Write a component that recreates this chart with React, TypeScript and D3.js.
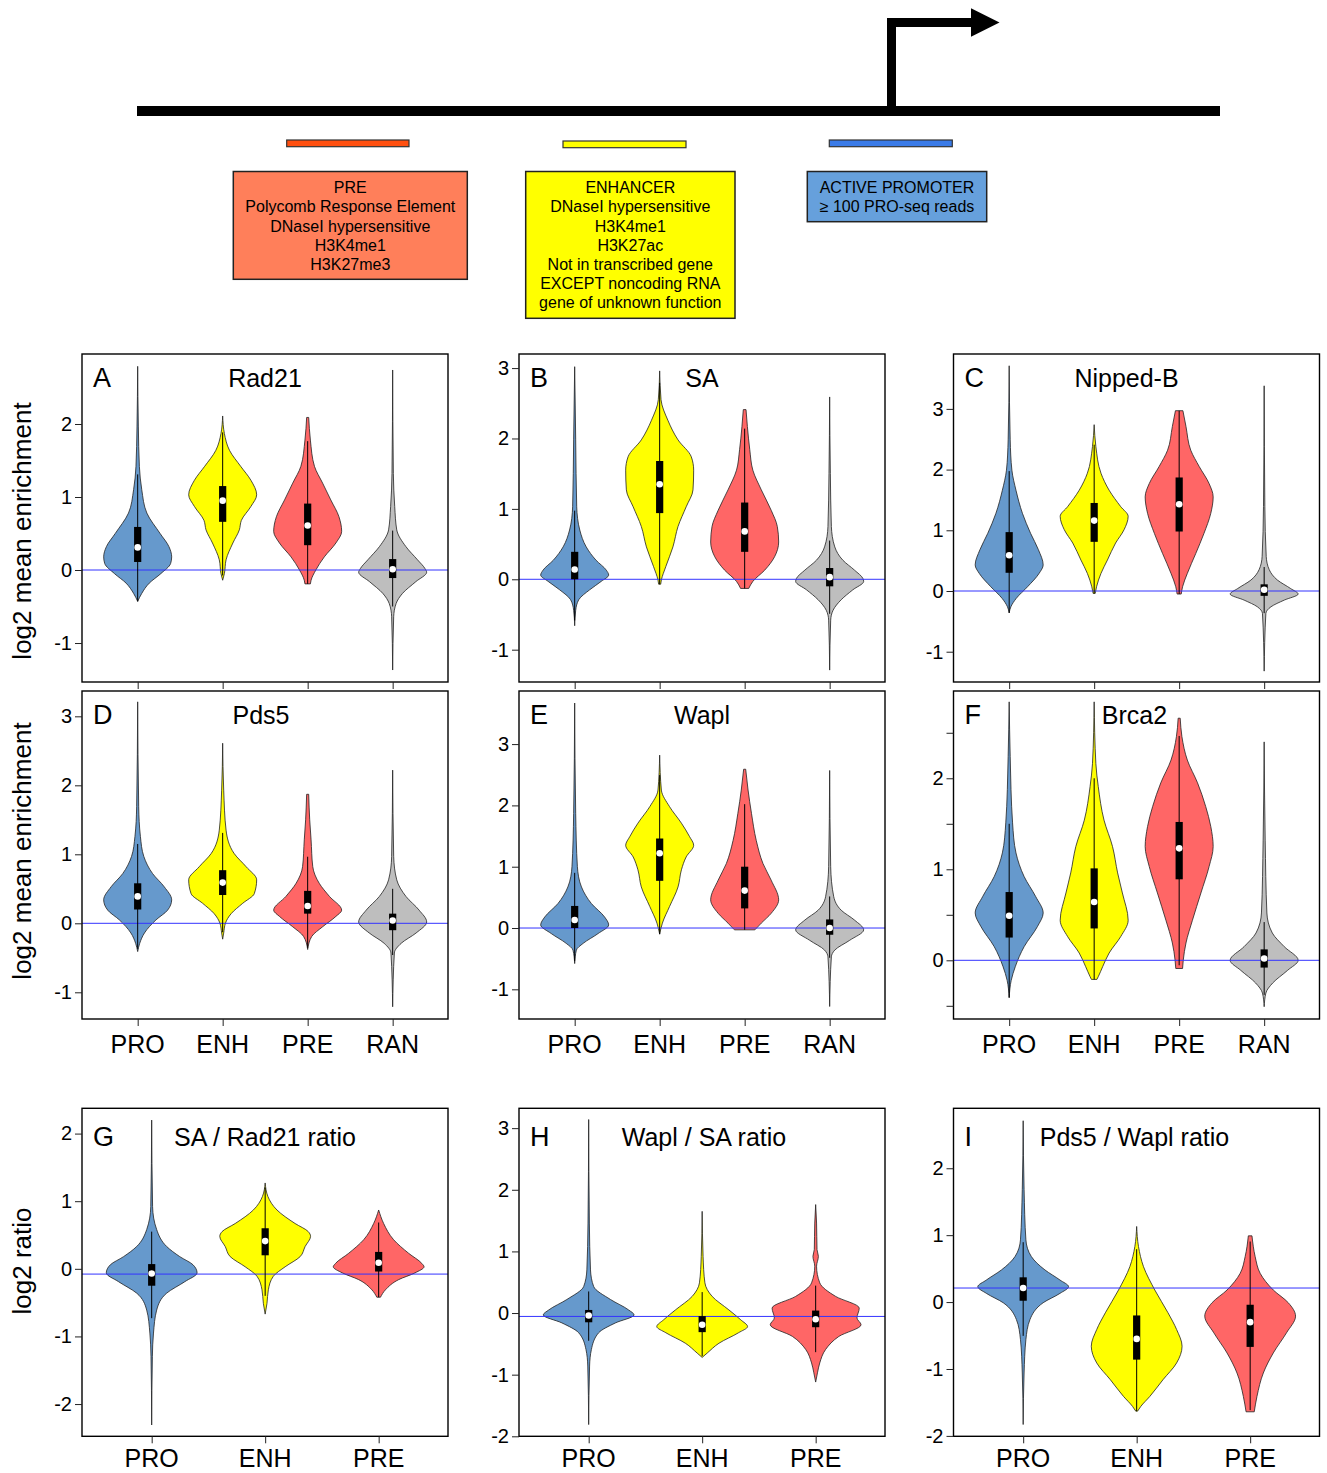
import React, { useEffect, useRef } from 'react';
import * as d3 from 'd3';

type Pt = [number, number];
type Box = [number, number, number];

const FONT = '"Liberation Sans", Arial, Helvetica, sans-serif';

// ---- categories / colours ----
const CATS4 = ['PRO', 'ENH', 'PRE', 'RAN'];
const CATS3 = ['PRO', 'ENH', 'PRE'];
const VIOLIN_COLORS = ['#6699CC', '#FFFF00', '#FF6666', '#BEBEBE'];

// ---- violin profiles: [value, relative half-width] ----
const A_PRO: Pt[] = [[-0.43, 0], [-0.32, 0.12], [-0.18, 0.34], [-0.05, 0.68], [0.09, 0.97], [0.18, 1], [0.32, 0.92], [0.5, 0.66], [0.78, 0.27], [1.1, 0.12], [1.42, 0.05], [1.96, 0.02], [2.79, 0]];
const A_ENH: Pt[] = [[-0.14, 0], [-0.05, 0.05], [0.14, 0.1], [0.37, 0.3], [0.55, 0.49], [0.68, 0.55], [0.87, 0.83], [1.03, 1], [1.23, 0.83], [1.42, 0.53], [1.64, 0.2], [1.87, 0.05], [2.11, 0]];
const A_PRE: Pt[] = [[-0.19, 0.08], [-0.14, 0.1], [0, 0.24], [0.18, 0.49], [0.37, 0.83], [0.53, 1], [0.73, 0.92], [0.96, 0.68], [1.19, 0.44], [1.42, 0.2], [1.78, 0.08], [2.09, 0.03]];
const A_RAN: Pt[] = [[-1.37, 0], [-0.64, 0.03], [-0.46, 0.1], [-0.32, 0.29], [-0.16, 0.68], [-0.03, 1], [0.02, 0.95], [0.14, 0.73], [0.32, 0.39], [0.55, 0.12], [0.87, 0.06], [1.32, 0.02], [2.74, 0]];
const A_BOX: Box[] = [[0.11, 0.31, 0.59], [0.66, 0.95, 1.15], [0.34, 0.61, 0.91], [-0.11, 0.01, 0.15]];

const B_PRO: Pt[] = [[-0.66, 0], [-0.44, 0.03], [-0.29, 0.12], [-0.15, 0.44], [-0.03, 0.78], [0.06, 1], [0.13, 0.93], [0.27, 0.63], [0.46, 0.34], [0.7, 0.15], [1.03, 0.06], [1.98, 0.03], [3.02, 0]];
const B_ENH: Pt[] = [[-0.07, 0.03], [-0.01, 0.05], [0.18, 0.18], [0.46, 0.39], [0.75, 0.54], [1.03, 0.78], [1.27, 0.98], [1.55, 1], [1.74, 0.93], [1.98, 0.54], [2.26, 0.24], [2.55, 0.04], [2.96, 0]];
const B_PRE: Pt[] = [[-0.13, 0.12], [-0.03, 0.24], [0.13, 0.59], [0.32, 0.88], [0.53, 1], [0.75, 0.96], [0.98, 0.78], [1.27, 0.49], [1.55, 0.24], [1.84, 0.15], [2.17, 0.08], [2.41, 0.04]];
const B_RAN: Pt[] = [[-1.29, 0], [-0.58, 0.03], [-0.44, 0.1], [-0.29, 0.34], [-0.15, 0.68], [-0.03, 1], [0.01, 0.98], [0.13, 0.73], [0.27, 0.39], [0.46, 0.15], [0.75, 0.05], [1.5, 0.02], [2.59, 0]];
const B_BOX: Box[] = [[0.0, 0.14, 0.39], [0.94, 1.35, 1.68], [0.39, 0.68, 1.09], [-0.1, 0.03, 0.16]];

const C_PRO: Pt[] = [[-0.36, 0], [-0.26, 0.05], [-0.12, 0.21], [0.07, 0.54], [0.29, 0.88], [0.43, 1], [0.68, 0.86], [0.95, 0.63], [1.28, 0.39], [1.66, 0.2], [1.99, 0.08], [2.49, 0.03], [3.71, 0]];
const C_ENH: Pt[] = [[-0.04, 0.03], [0.07, 0.07], [0.29, 0.2], [0.51, 0.39], [0.79, 0.63], [1.01, 0.88], [1.23, 1], [1.39, 0.78], [1.66, 0.44], [1.94, 0.2], [2.38, 0.05], [2.74, 0]];
const C_PRE: Pt[] = [[-0.05, 0.06], [0.07, 0.1], [0.29, 0.24], [0.62, 0.49], [0.95, 0.73], [1.28, 0.93], [1.55, 1], [1.77, 0.88], [2.05, 0.59], [2.32, 0.34], [2.71, 0.2], [2.97, 0.11]];
const C_RAN: Pt[] = [[-1.32, 0], [-0.37, 0.05], [-0.26, 0.2], [-0.15, 0.59], [-0.05, 1], [0.04, 0.78], [0.18, 0.39], [0.35, 0.15], [0.57, 0.06], [1.39, 0.02], [3.38, 0]];
const C_BOX: Box[] = [[0.3, 0.59, 0.97], [0.81, 1.16, 1.45], [0.98, 1.43, 1.87], [-0.08, 0.02, 0.11]];

const D_PRO: Pt[] = [[-0.41, 0], [-0.29, 0.06], [-0.14, 0.2], [0.05, 0.54], [0.19, 0.88], [0.34, 1], [0.53, 0.78], [0.72, 0.44], [0.97, 0.18], [1.26, 0.08], [1.69, 0.03], [3.21, 0]];
const D_ENH: Pt[] = [[-0.23, 0], [-0.14, 0.03], [0, 0.08], [0.14, 0.25], [0.29, 0.59], [0.43, 0.93], [0.63, 1], [0.82, 0.69], [1.01, 0.34], [1.35, 0.1], [1.93, 0.03], [2.61, 0]];
const D_PRE: Pt[] = [[-0.38, 0], [-0.19, 0.12], [-0.05, 0.44], [0.1, 0.83], [0.19, 1], [0.39, 0.64], [0.58, 0.34], [0.82, 0.15], [1.21, 0.1], [1.5, 0.06], [1.87, 0.03]];
const D_RAN: Pt[] = [[-1.21, 0], [-0.43, 0.05], [-0.29, 0.25], [-0.14, 0.69], [0.02, 1], [0.19, 0.78], [0.39, 0.39], [0.63, 0.12], [0.97, 0.03], [2.22, 0]];
const D_BOX: Box[] = [[0.2, 0.39, 0.58], [0.41, 0.59, 0.77], [0.14, 0.25, 0.47], [-0.1, 0.04, 0.14]];

const E_PRO: Pt[] = [[-0.58, 0], [-0.36, 0.05], [-0.25, 0.25], [-0.09, 0.69], [0.05, 1], [0.18, 0.88], [0.4, 0.49], [0.67, 0.2], [1.0, 0.08], [1.87, 0.03], [3.67, 0]];
const E_ENH: Pt[] = [[-0.1, 0], [0.08, 0.08], [0.35, 0.29], [0.67, 0.54], [0.95, 0.64], [1.16, 0.78], [1.35, 1], [1.49, 0.88], [1.71, 0.64], [1.98, 0.29], [2.25, 0.05], [2.82, 0]];
const E_PRE: Pt[] = [[-0.03, 0.3], [0.08, 0.49], [0.24, 0.78], [0.46, 1], [0.78, 0.78], [1.05, 0.54], [1.43, 0.34], [1.87, 0.2], [2.25, 0.1], [2.59, 0.03]];
const E_RAN: Pt[] = [[-1.28, 0], [-0.47, 0.05], [-0.36, 0.15], [-0.2, 0.59], [-0.03, 1], [0.13, 0.73], [0.29, 0.34], [0.51, 0.12], [1.0, 0.03], [2.57, 0]];
const E_BOX: Box[] = [[0.0, 0.13, 0.36], [0.77, 1.22, 1.46], [0.32, 0.61, 1.0], [-0.11, 0.0, 0.14]];

const F_PRO: Pt[] = [[-0.41, 0], [-0.22, 0.06], [-0.07, 0.18], [0.15, 0.44], [0.37, 0.83], [0.52, 1], [0.7, 0.78], [0.92, 0.44], [1.18, 0.2], [1.51, 0.1], [2.24, 0.03], [2.84, 0]];
const F_ENH: Pt[] = [[-0.21, 0.08], [-0.18, 0.12], [-0.07, 0.25], [0.08, 0.44], [0.26, 0.78], [0.44, 1], [0.74, 0.83], [0.96, 0.69], [1.25, 0.54], [1.54, 0.29], [1.91, 0.12], [2.16, 0.05], [2.84, 0]];
const F_PRE: Pt[] = [[-0.09, 0.1], [0.0, 0.12], [0.19, 0.2], [0.44, 0.39], [0.74, 0.64], [1.03, 0.88], [1.25, 1], [1.47, 0.93], [1.69, 0.78], [1.95, 0.54], [2.2, 0.24], [2.46, 0.08], [2.66, 0.03]];
const F_RAN: Pt[] = [[-0.51, 0], [-0.36, 0.05], [-0.25, 0.25], [-0.11, 0.69], [0.0, 1], [0.15, 0.59], [0.3, 0.24], [0.52, 0.08], [1.32, 0.03], [2.4, 0]];
const F_BOX: Box[] = [[0.25, 0.49, 0.75], [0.35, 0.64, 1.01], [0.89, 1.23, 1.52], [-0.08, 0.02, 0.12]];

const G_PRO: Pt[] = [[-2.31, 0], [-1.3, 0.015], [-0.95, 0.04], [-0.61, 0.11], [-0.36, 0.33], [-0.19, 0.73], [-0.06, 1], [0.06, 0.91], [0.18, 0.62], [0.33, 0.33], [0.58, 0.11], [0.92, 0.02], [2.2, 0]];
const G_ENH: Pt[] = [[-0.67, 0], [-0.51, 0.04], [-0.31, 0.07], [-0.11, 0.18], [0.03, 0.44], [0.18, 0.77], [0.33, 0.88], [0.48, 1], [0.55, 0.95], [0.67, 0.66], [0.87, 0.26], [1.07, 0.06], [1.27, 0]];
const G_PRE: Pt[] = [[-0.42, 0.04], [-0.31, 0.15], [-0.16, 0.44], [-0.06, 0.8], [0.03, 1], [0.08, 0.95], [0.23, 0.66], [0.43, 0.33], [0.67, 0.11], [0.87, 0]];
const G_BOX: Box[] = [[-0.25, -0.07, 0.07], [0.2, 0.41, 0.6], [-0.04, 0.09, 0.25]];

const H_PRO: Pt[] = [[-1.81, 0], [-0.86, 0.02], [-0.59, 0.06], [-0.32, 0.22], [-0.16, 0.59], [-0.03, 1], [0.05, 0.88], [0.22, 0.48], [0.43, 0.11], [0.7, 0.04], [1.46, 0.015], [3.14, 0]];
const H_ENH: Pt[] = [[-0.72, 0], [-0.65, 0.11], [-0.49, 0.37], [-0.32, 0.8], [-0.22, 1], [-0.11, 0.85], [0.05, 0.59], [0.27, 0.22], [0.49, 0.06], [0.92, 0.02], [1.65, 0]];
const H_PRE: Pt[] = [[-1.12, 0], [-0.97, 0.04], [-0.81, 0.09], [-0.59, 0.22], [-0.38, 0.51], [-0.19, 1], [-0.08, 0.91], [0.08, 0.96], [0.27, 0.44], [0.49, 0.09], [0.76, 0.02], [0.92, 0.06], [1.03, 0.03], [1.46, 0.02], [1.76, 0]];
const H_BOX: Box[] = [[-0.15, -0.04, 0.05], [-0.31, -0.19, -0.05], [-0.23, -0.1, 0.04]];

const I_PRO: Pt[] = [[-1.83, 0], [-1.06, 0.02], [-0.56, 0.06], [-0.26, 0.15], [-0.01, 0.44], [0.13, 0.81], [0.23, 1], [0.33, 0.81], [0.48, 0.48], [0.68, 0.18], [0.93, 0.06], [1.68, 0.02], [2.71, 0]];
const I_ENH: Pt[] = [[-1.63, 0.02], [-1.56, 0.09], [-1.41, 0.29], [-1.16, 0.58], [-0.91, 0.88], [-0.66, 1], [-0.41, 0.88], [-0.16, 0.69], [0.18, 0.4], [0.53, 0.15], [0.83, 0.04], [1.13, 0]];
const I_PRE: Pt[] = [[-1.64, 0.09], [-1.41, 0.15], [-1.06, 0.29], [-0.76, 0.51], [-0.46, 0.8], [-0.21, 1], [-0.01, 0.84], [0.18, 0.51], [0.43, 0.22], [0.68, 0.11], [0.99, 0.04]];
const I_BOX: Box[] = [[0.02, 0.21, 0.37], [-0.86, -0.55, -0.2], [-0.67, -0.3, -0.04]];

// ---- axis ticks ----
const TICKS_A = [-1, 0, 1, 2];
const TICKS_BCDE = [-1, 0, 1, 2, 3];
const TICKS_F = [-0.5, 0, 0.5, 1, 1.5, 2, 2.5];
const TICKS_G = [-2, -1, 0, 1, 2];
const TICKS_H = [-2, -1, 0, 1, 2, 3];
const TICKS_I = [-2, -1, 0, 1, 2];

// ---- top diagram texts ----
const PRE_TEXT = ['PRE', 'Polycomb Response Element', 'DNaseI hypersensitive', 'H3K4me1', 'H3K27me3'];
const ENH_TEXT = ['ENHANCER', 'DNaseI hypersensitive', 'H3K4me1', 'H3K27ac', 'Not in transcribed gene', 'EXCEPT noncoding RNA', 'gene of unknown function'];
const PRO_TEXT = ['ACTIVE PROMOTER', '\u2265 100 PRO-seq reads'];

// ---- layout ----
const COL_LEFT = [82, 519, 953.5];
const ROW_TOP = [354, 691, 1108.3];
const PW = 366;
const PH = 328;

interface PanelCfg {
  letter: string;
  title: string;
  titleDx: number;
  col: number;
  row: number;
  cats: string[];
  violins: Pt[][];
  boxes: Box[];
  yDomain: [number, number];
  ticks: number[];
  refLine: number;
  showX: boolean;
  yTitle?: string;
  yTitleY?: number;
}

const PANELS: PanelCfg[] = [
  { letter: 'A', title: 'Rad21', titleDx: 0, col: 0, row: 0, cats: CATS4, violins: [A_PRO, A_ENH, A_PRE, A_RAN], boxes: A_BOX, yDomain: [-1.534, 2.959], ticks: TICKS_A, refLine: 0, showX: false, yTitle: 'log2 mean enrichment', yTitleY: 531 },
  { letter: 'B', title: 'SA', titleDx: 0, col: 1, row: 0, cats: CATS4, violins: [B_PRO, B_ENH, B_PRE, B_RAN], boxes: B_BOX, yDomain: [-1.459, 3.2], ticks: TICKS_BCDE, refLine: 0, showX: false },
  { letter: 'C', title: 'Nipped-B', titleDx: -10, col: 2, row: 0, cats: CATS4, violins: [C_PRO, C_ENH, C_PRE, C_RAN], boxes: C_BOX, yDomain: [-1.499, 3.904], ticks: TICKS_BCDE, refLine: 0, showX: false },
  { letter: 'D', title: 'Pds5', titleDx: -4, col: 0, row: 1, cats: CATS4, violins: [D_PRO, D_ENH, D_PRE, D_RAN], boxes: D_BOX, yDomain: [-1.387, 3.367], ticks: TICKS_BCDE, refLine: 0, showX: true, yTitle: 'log2 mean enrichment', yTitleY: 851 },
  { letter: 'E', title: 'Wapl', titleDx: 0, col: 1, row: 1, cats: CATS4, violins: [E_PRO, E_ENH, E_PRE, E_RAN], boxes: E_BOX, yDomain: [-1.484, 3.866], ticks: TICKS_BCDE, refLine: 0, showX: true },
  { letter: 'F', title: 'Brca2', titleDx: -2, col: 2, row: 1, cats: CATS4, violins: [F_PRO, F_ENH, F_PRE, F_RAN], boxes: F_BOX, yDomain: [-0.645, 2.959], ticks: TICKS_F, refLine: 0, showX: true },
  { letter: 'G', title: 'SA / Rad21 ratio', titleDx: 0, col: 0, row: 2, cats: CATS3, violins: [G_PRO, G_ENH, G_PRE], boxes: G_BOX, yDomain: [-2.477, 2.374], ticks: TICKS_G, refLine: -0.078, showX: true, yTitle: 'log2 ratio', yTitleY: 1261 },
  { letter: 'H', title: 'Wapl / SA ratio', titleDx: 2, col: 1, row: 2, cats: CATS3, violins: [H_PRO, H_ENH, H_PRE], boxes: H_BOX, yDomain: [-2.0, 3.322], ticks: TICKS_H, refLine: -0.055, showX: true },
  { letter: 'I', title: 'Pds5 / Wapl ratio', titleDx: -2, col: 2, row: 2, cats: CATS3, violins: [I_PRO, I_ENH, I_PRE], boxes: I_BOX, yDomain: [-2.006, 2.896], ticks: TICKS_I, refLine: 0.21, showX: true },
];

function YAxis({ scale, ticks, x }: { scale: d3.ScaleLinear<number, number>; ticks: number[]; x: number }) {
  const ref = useRef<SVGGElement>(null);
  useEffect(() => {
    const g = d3.select(ref.current!);
    g.selectAll('*').remove();
    g.call(
      d3.axisLeft(scale)
        .tickValues(ticks)
        .tickSize(7)
        .tickPadding(3)
        .tickFormat((d) => (Number.isInteger(+d) ? String(d) : ''))
    );
    g.select('.domain').remove();
    g.attr('font-size', 20).attr('font-family', FONT);
    g.selectAll('.tick line').attr('stroke', '#222');
  }, [scale, ticks]);
  return <g ref={ref} transform={`translate(${x},0)`} />;
}

function XAxis({ scale, n, y }: { scale: d3.ScaleLinear<number, number>; n: number; y: number }) {
  const ref = useRef<SVGGElement>(null);
  useEffect(() => {
    const g = d3.select(ref.current!);
    g.selectAll('*').remove();
    g.call(d3.axisBottom(scale).tickValues(d3.range(1, n + 1)).tickSize(7).tickFormat(() => ''));
    g.select('.domain').remove();
    g.selectAll('.tick line').attr('stroke', '#222');
  }, [scale, n]);
  return <g ref={ref} transform={`translate(0,${y})`} />;
}

function Panel({ p }: { p: PanelCfg }) {
  const left = COL_LEFT[p.col];
  const top = ROW_TOP[p.row];
  const n = p.cats.length;
  const xDom: [number, number] = n === 4 ? [0.345, 4.651] : [0.386, 3.611];
  const x = d3.scaleLinear().domain(xDom).range([left, left + PW]);
  const y = d3.scaleLinear().domain(p.yDomain).range([top + PH, top]);
  const unit = x(2) - x(1);
  const letterY = p.row === 2 ? top + 38 : top + 33;
  const catY = p.row === 2 ? top + PH + 31 : top + PH + 34;

  return (
    <g>
      {p.violins.map((prof, i) => {
        const cx = x(i + 1);
        const pts = [...prof].sort((a, b) => b[0] - a[0]);
        const area = d3
          .area<Pt>()
          .y((d) => y(d[0]))
          .x0((d) => cx - d[1] * 0.4 * unit)
          .x1((d) => cx + d[1] * 0.4 * unit)
          .curve(d3.curveMonotoneY);
        return (
          <path key={'v' + i} d={area(pts) || ''} fill={VIOLIN_COLORS[i]} stroke="#222" strokeWidth={0.8} />
        );
      })}
      <line x1={left} x2={left + PW} y1={y(p.refLine)} y2={y(p.refLine)} stroke="#3333FF" strokeWidth={1} />
      {p.boxes.map((b, i) => {
        const cx = x(i + 1);
        const prof = p.violins[i];
        const vmin = d3.min(prof, (d) => d[0])!;
        const vmax = d3.max(prof, (d) => d[0])!;
        const iqr = b[2] - b[0];
        const lo = Math.max(vmin, b[0] - 1.5 * iqr);
        const hi = Math.min(vmax, b[2] + 1.5 * iqr);
        return (
          <g key={'b' + i}>
            <line x1={cx} x2={cx} y1={y(lo)} y2={y(hi)} stroke="#000" strokeWidth={1} />
            <rect x={cx - 3.6} width={7.2} y={y(b[2])} height={y(b[0]) - y(b[2])} fill="#000" />
            <circle cx={cx} cy={y(b[1])} r={3.3} fill="#fff" />
          </g>
        );
      })}
      <rect x={left} y={top} width={PW} height={PH} fill="none" stroke="#000" strokeWidth={1.4} />
      <YAxis scale={y} ticks={p.ticks} x={left} />
      <XAxis scale={x} n={n} y={top + PH} />
      <text x={left + 11} y={letterY} fontSize={27} fontFamily={FONT}>{p.letter}</text>
      <text x={left + PW / 2 + p.titleDx} y={letterY} fontSize={25} fontFamily={FONT} textAnchor="middle">{p.title}</text>
      {p.showX &&
        p.cats.map((c, i) => (
          <text key={c} x={x(i + 1)} y={catY} fontSize={25} fontFamily={FONT} textAnchor="middle">{c}</text>
        ))}
      {p.yTitle && (
        <text transform={`translate(31,${p.yTitleY}) rotate(-90)`} fontSize={26} fontFamily={FONT} textAnchor="middle">{p.yTitle}</text>
      )}
    </g>
  );
}

function Diagram() {
  const boxText = (lines: string[], cx: number) =>
    lines.map((t, i) => (
      <text key={i} x={cx} y={193.3 + i * 19.1} fontSize={16} fontFamily={FONT} textAnchor="middle">{t}</text>
    ));
  return (
    <g>
      <line x1={137} x2={1220} y1={111} y2={111} stroke="#000" strokeWidth={10} />
      <path d="M891.5,111 V22.5 H973" fill="none" stroke="#000" strokeWidth={9} strokeLinejoin="miter" />
      <polygon points="971,8.3 999.5,22.5 971,36.7" fill="#000" />
      <rect x={286.7} y={140} width={122.3} height={6.7} fill="#FF4F0F" stroke="#333" strokeWidth={1.2} />
      <rect x={563} y={141} width={123} height={6.7} fill="#FFFF00" stroke="#333" strokeWidth={1.2} />
      <rect x={829.3} y={140} width={123} height={6.7} fill="#3A7BE8" stroke="#333" strokeWidth={1.2} />
      <rect x={233.3} y={171.5} width={234} height={107.8} fill="#FF7F5A" stroke="#222" strokeWidth={1.5} />
      <rect x={525.7} y={171.5} width={209.3} height={146.8} fill="#FFFF00" stroke="#222" strokeWidth={1.5} />
      <rect x={807.3} y={171.5} width={179.4} height={50.2} fill="#66A0DC" stroke="#222" strokeWidth={1.5} />
      {boxText(PRE_TEXT, 350.3)}
      {boxText(ENH_TEXT, 630.3)}
      {boxText(PRO_TEXT, 897)}
    </g>
  );
}

const App: React.FC = () => {
  return (
    <div>
      <svg width={1327} height={1473} style={{ display: 'block', position: 'absolute', left: 0, top: 0, background: '#fff' }}>
        <Diagram />
        {PANELS.map((p) => (
          <Panel key={p.letter} p={p} />
        ))}
      </svg>
    </div>
  );
};

export default App;
